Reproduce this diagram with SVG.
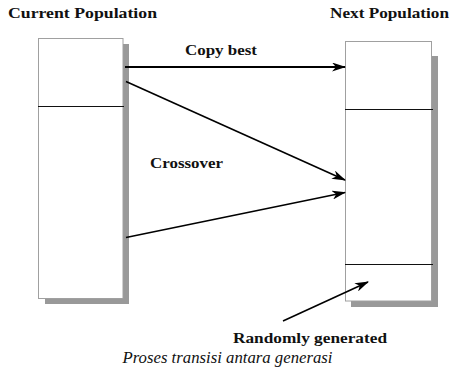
<svg xmlns="http://www.w3.org/2000/svg" width="453" height="379" viewBox="0 0 453 379">
<style>
.box{fill:#fff;stroke:#a0a0a0;stroke-width:1}
.shadow{fill:#999}
.div{stroke:#111;stroke-width:1}
.lbl{font-family:'Liberation Serif','Times New Roman',serif;font-weight:bold;font-size:15px;fill:#111}
.cap{font-family:'Liberation Serif','Times New Roman',serif;font-style:italic;font-size:17.5px;fill:#111}
.conn{stroke:#000;fill:none}
</style>
<defs>
<marker id="ah" viewBox="0 0 14 10" refX="13" refY="5" markerWidth="14" markerHeight="9" markerUnits="userSpaceOnUse" orient="auto" preserveAspectRatio="none">
<path d="M0,0 L14,5 L0,10 L4,5 z" fill="#000"/>
</marker>
</defs>
<rect width="453" height="379" fill="#fff"/>
<g id="current-population">
<rect class="shadow" x="45" y="44" width="84" height="260"/>
<rect class="box" x="38.5" y="38.5" width="84.5" height="260"/>
<line class="div" x1="38" y1="106.5" x2="124" y2="106.5"/>
<text class="lbl" x="8" y="18" textLength="149" lengthAdjust="spacingAndGlyphs">Current  Population</text>
</g>
<g id="next-population">
<path class="shadow" d="M432,56 H438 V307 H351 V301 H432 Z"/>
<rect class="box" x="345.5" y="41.5" width="86" height="259.5"/>
<line class="div" x1="345" y1="109.5" x2="433" y2="109.5"/>
<line class="div" x1="345" y1="264.5" x2="433" y2="264.5"/>
<text class="lbl" x="330" y="17.5" textLength="119" lengthAdjust="spacingAndGlyphs">Next  Population</text>
</g>
<g id="connectors">
<line class="conn" x1="125" y1="67" x2="345" y2="67" stroke-width="2" marker-end="url(#ah)"/>
<line class="conn" x1="126" y1="81.5" x2="345" y2="180" stroke-width="1.6" marker-end="url(#ah)"/>
<line class="conn" x1="126" y1="237.5" x2="345" y2="192.5" stroke-width="1.6" marker-end="url(#ah)"/>
<line class="conn" x1="283" y1="321" x2="368" y2="282" stroke-width="1.6" marker-end="url(#ah)"/>
</g>
<g id="labels">
<text class="lbl" x="185" y="55" textLength="72" lengthAdjust="spacingAndGlyphs">Copy best</text>
<text class="lbl" x="150" y="168" textLength="73" lengthAdjust="spacingAndGlyphs">Crossover</text>
<text class="lbl" x="233" y="342.5" textLength="154" lengthAdjust="spacingAndGlyphs">Randomly generated</text>
<text class="cap" x="122.5" y="363" textLength="210" lengthAdjust="spacingAndGlyphs">Proses transisi antara generasi</text>
</g>
</svg>
